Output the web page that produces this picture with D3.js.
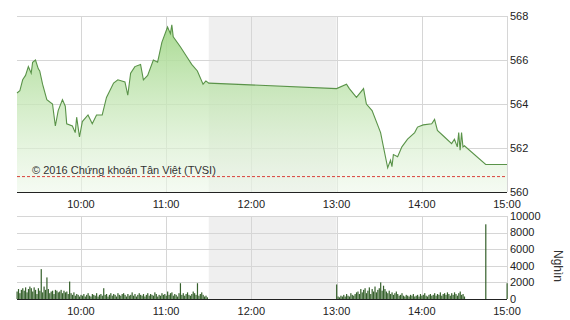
<!DOCTYPE html>
<html>
<head>
<meta charset="utf-8">
<script src="https://cdn.jsdelivr.net/npm/d3@7"></script>
<style>
  body { margin: 0; background: #fff; }
  svg { display: block; font-family: Arial, 'Liberation Sans', sans-serif; }
  .tick-label { font-size: 11px; fill: #222; }
</style>
</head>
<body>
<svg id="chart"></svg>
<script>
// price points (time, index value)
const priceTimes = ['9:15','9:17','9:19','9:21','9:23','9:25','9:26','9:28','9:30','9:31','9:33','9:36','9:40','9:42','9:44','9:47','9:49','9:50','9:54','9:56','9:57','9:59',
  '10:01','10:05','10:08','10:11','10:15','10:18','10:23','10:26','10:31','10:33','10:35','10:38','10:42','10:44','10:47','10:51','10:54','10:57',
  '11:01','11:03','11:04','11:05','11:10','11:15','11:18','11:22','11:26','11:28','11:30',
  '13:00','13:07','13:09','13:14','13:19','13:21','13:25','13:31','13:33','13:36','13:38','13:39','13:40','13:43','13:46','13:50','13:55','13:57',
  '14:01','14:07','14:09','14:11','14:16','14:21','14:23','14:25','14:26','14:27','14:28','14:29','14:30','14:45','15:00'];
const priceValues = [564.5,564.6,565.1,565.3,565.7,565.4,565.9,566.0,565.6,565.5,564.9,564.2,564.0,563.0,563.7,564.2,563.9,563.1,563.0,562.7,563.4,562.5,
  563.2,563.5,563.1,563.5,563.5,564.3,564.95,565.1,565.0,564.4,565.4,565.7,565.8,565.1,565.3,566.0,565.9,566.8,
  567.5,567.2,567.6,567.05,566.6,566.1,565.8,565.5,564.9,565.05,564.95,
  564.7,564.9,564.7,564.3,564.7,564.0,563.7,562.7,562.05,561.1,561.45,561.15,561.7,561.6,562.05,562.4,562.7,562.95,
  563.05,563.1,563.3,562.8,562.5,562.2,562.4,562.05,562.7,561.9,562.7,562.05,562.1,561.25,561.25];
const refPrice = 560.7;

// volume per minute (nghìn cp)
const volMorningStart = '9:15';
const volMorning = [900,1200,700,1100,1300,1000,1400,800,1200,1500,1300,900,1400,1100,600,
  1300,1000,3600,800,1500,1100,2600,1200,700,900,1000,600,1100,1000,800,
  900,1100,700,1000,800,900,600,2100,700,500,800,400,600,500,300,
  500,400,600,300,500,700,400,300,600,500,400,700,300,500,600,
  400,1300,500,600,300,500,700,400,600,500,300,700,500,400,600,
  700,500,300,600,400,500,800,400,600,300,500,700,500,400,600,
  300,500,700,400,600,500,400,800,600,300,500,400,700,500,600,
  400,900,500,700,800,400,600,500,300,700,1900,500,700,400,600,
  800,500,400,600,900,700,500,1900,400,600,800,500,300,400,200];
const volAfternoonStart = '13:00';
const volAfternoon = [1750,300,200,400,300,500,300,600,400,300,700,500,400,600,800,
  900,600,1200,800,1100,1300,700,1000,1400,600,1200,900,1500,800,1100,1300,2000,1000,1600,1200,
  900,700,1000,600,800,500,700,900,600,400,500,700,400,300,500,400,
  300,500,400,600,300,400,500,300,600,400,500,700,400,300,500,
  600,400,500,700,400,600,500,800,400,600,700,500,800,600,400,
  700,500,800,600,400,700,900,500,600,300];
const volCloseTimes = ['14:45','15:00'];
const volCloseValues = [9000,1900];

const hourTicks = ['10:00','11:00','12:00','13:00','14:00','15:00'];
const priceTicks = [560,562,564,566,568];
const volTicks = [0,2000,4000,6000,8000,10000];
const lunchBreak = ['11:30','13:00'];

const width = 570, height = 320;
const plotLeft = 17, plotRight = 507;
const priceTop = 16, priceBottom = 192;
const volTop = 216, volBottom = 299;

const parse = d3.timeParse('%H:%M');
const addMin = (t, m) => new Date(parse(t).getTime() + m * 60000);

const prices = priceTimes.map((t, i) => ({ time: parse(t), value: priceValues[i] }));
const volumes = []
  .concat(volMorning.map((v, i) => ({ time: addMin(volMorningStart, i), value: v })))
  .concat(volAfternoon.map((v, i) => ({ time: addMin(volAfternoonStart, i), value: v })))
  .concat(volCloseTimes.map((t, i) => ({ time: parse(t), value: volCloseValues[i] })));

const svg = d3.select('#chart')
  .attr('width', width)
  .attr('height', height);

const xScale = d3.scaleTime()
  .domain([parse('9:15'), parse('15:00')])
  .range([plotLeft, plotRight]);

const yPrice = d3.scaleLinear()
  .domain([560, 568])
  .range([priceBottom, priceTop]);

const yVol = d3.scaleLinear()
  .domain([0, 10000])
  .range([volBottom, volTop]);

// gradient for the area under the price line
const grad = svg.append('defs').append('linearGradient')
  .attr('id', 'areaFill')
  .attr('gradientUnits', 'userSpaceOnUse')
  .attr('x1', 0).attr('x2', 0)
  .attr('y1', priceTop).attr('y2', priceBottom);
grad.append('stop').attr('offset', '0%').attr('stop-color', '#9fd685').attr('stop-opacity', 0.95);
grad.append('stop').attr('offset', '100%').attr('stop-color', '#eef8ea').attr('stop-opacity', 0.6);

function drawPanel(yScale, ticks, top, bottom, tickFormat) {
  // lunch break shading
  svg.append('rect')
    .attr('x', xScale(parse(lunchBreak[0])))
    .attr('y', top)
    .attr('width', xScale(parse(lunchBreak[1])) - xScale(parse(lunchBreak[0])))
    .attr('height', bottom - top)
    .attr('fill', '#efefef');

  // horizontal grid
  svg.append('g')
    .selectAll('line')
    .data(ticks)
    .join('line')
    .attr('x1', plotLeft)
    .attr('x2', plotRight)
    .attr('y1', d => Math.round(yScale(d)) + 0.5)
    .attr('y2', d => Math.round(yScale(d)) + 0.5)
    .attr('stroke', '#d6d6d6');

  // vertical grid
  svg.append('g')
    .selectAll('line')
    .data(hourTicks)
    .join('line')
    .attr('x1', d => Math.round(xScale(parse(d))) + 0.5)
    .attr('x2', d => Math.round(xScale(parse(d))) + 0.5)
    .attr('y1', top)
    .attr('y2', bottom)
    .attr('stroke', '#d6d6d6');

  // right axis labels
  svg.append('g')
    .selectAll('text')
    .data(ticks)
    .join('text')
    .attr('class', 'tick-label')
    .attr('x', plotRight + 3)
    .attr('y', d => yScale(d))
    .attr('dy', '0.35em')
    .text(tickFormat);

  // x labels under panel
  svg.append('g')
    .selectAll('text')
    .data(hourTicks)
    .join('text')
    .attr('class', 'tick-label')
    .attr('x', d => xScale(parse(d)))
    .attr('y', bottom + 12)
    .attr('dy', '0.35em')
    .attr('text-anchor', 'middle')
    .text(d => d);
}

drawPanel(yPrice, priceTicks, priceTop, priceBottom, d => d);
drawPanel(yVol, volTicks, volTop, volBottom, d => d);

// price area + line
const area = d3.area()
  .x(d => xScale(d.time))
  .y0(priceBottom)
  .y1(d => yPrice(d.value));

const line = d3.line()
  .x(d => xScale(d.time))
  .y(d => yPrice(d.value));

svg.append('path')
  .datum(prices)
  .attr('d', area)
  .attr('fill', 'url(#areaFill)');

svg.append('path')
  .datum(prices)
  .attr('d', line)
  .attr('fill', 'none')
  .attr('stroke', '#5a9349')
  .attr('stroke-width', 1.1);

// reference line
svg.append('line')
  .attr('x1', plotLeft)
  .attr('x2', plotRight)
  .attr('y1', yPrice(refPrice))
  .attr('y2', yPrice(refPrice))
  .attr('stroke', '#d9423a')
  .attr('stroke-dasharray', '3,2');

svg.append('text')
  .attr('x', 32)
  .attr('y', 174)
  .attr('font-size', '11px')
  .attr('fill', '#333')
  .text('© 2016 Chứng khoán Tân Việt (TVSI)');

// volume bars
svg.append('g')
  .selectAll('rect')
  .data(volumes)
  .join('rect')
  .attr('x', d => xScale(d.time) - 0.5)
  .attr('width', 1.2)
  .attr('y', d => yVol(d.value))
  .attr('height', d => volBottom - yVol(d.value))
  .attr('fill', '#35602b');

// base axis lines
[priceBottom, volBottom].forEach(y => {
  svg.append('line')
    .attr('x1', plotLeft)
    .attr('x2', plotRight)
    .attr('y1', y + 0.5)
    .attr('y2', y + 0.5)
    .attr('stroke', '#222')
    .attr('stroke-width', 1.2);
});

svg.append('text')
  .attr('transform', 'translate(554,250) rotate(90)')
  .attr('font-size', '12px')
  .attr('fill', '#333')
  .text('Nghìn');
</script>
</body>
</html>
